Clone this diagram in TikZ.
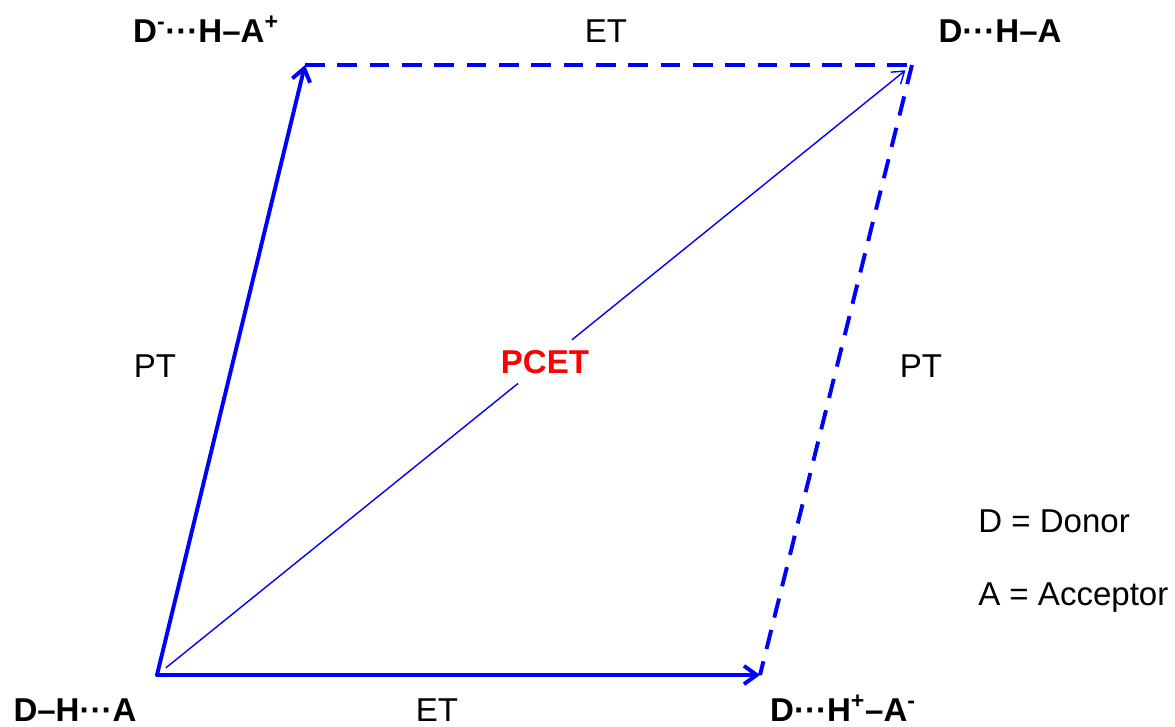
\documentclass[tikz,border=0pt]{standalone}
\usepackage{fontspec}
\setmainfont{Liberation Sans}
\usetikzlibrary{arrows.meta, positioning}

\tikzset{
  species/.style={anchor=base, inner sep=0pt, font=\fontsize{23.5}{27}\selectfont\bfseries},
  proc/.style={anchor=base, inner sep=0pt, font=\fontsize{23.5}{27}\selectfont},
  legend/.style={anchor=base west, inner sep=0pt, font=\fontsize{23.5}{27}\selectfont},
  thickpath/.style={draw=blue, line width=2.8pt, line cap=round},
  thinpath/.style={draw=blue, line width=1pt},
  dashpath/.style={thickpath, line cap=butt, dash pattern=on 14pt off 9pt},
  barb/.style={-{Straight Barb[length=9pt, width=13pt]}},
  thinbarb/.style={-{Straight Barb[length=8pt, width=11pt]}}
}

\begin{document}
\begin{tikzpicture}[x=0.025cm, y=-0.025cm]
\useasboundingbox (0,0) rectangle (1175,726);

% corners of the square scheme
\coordinate (C0) at (157,675);
\coordinate (C1) at (305,65);
\coordinate (C2) at (912,65);
\coordinate (C3) at (760,675);

% species
\node[species] (S0) at (75,721) {D–H···A};
\node[species] (S1) at (206,42) {D\textsuperscript{-}···H–A\textsuperscript{+}};
\node[species] (S2) at (1000,42) {D···H–A};
\node[species] (S3) at (843,721) {D···H\textsuperscript{+}–A\textsuperscript{-}};

% step labels
\node[proc] (ETtop) at (606,42) {ET};
\node[proc] (ETbot) at (437,721) {ET};
\node[proc] (PTleft) at (155,377) {PT};
\node[proc] (PTright) at (921,377) {PT};
\node[proc, text=red, font=\fontsize{23.5}{27}\selectfont\bfseries, inner sep=7pt] (PCET) at (545,373) {PCET};

% legend
\node[legend] (LD) at (978,532) {D = Donor};
\node[legend] (LA) at (978,605) {A = Acceptor};

% stepwise paths
\draw[thickpath, barb] (C0) -- (C1);
\draw[thickpath, barb] (C0) -- (C3);
\draw[dashpath] (C1) -- (C2);
\draw[dashpath] (C2) -- (C3);

% concerted path
\draw[thinpath, shorten <=8pt] (C0) -- (PCET);
\draw[thinpath, thinbarb, shorten >=6pt] (PCET) -- (C2);

\end{tikzpicture}
\end{document}
